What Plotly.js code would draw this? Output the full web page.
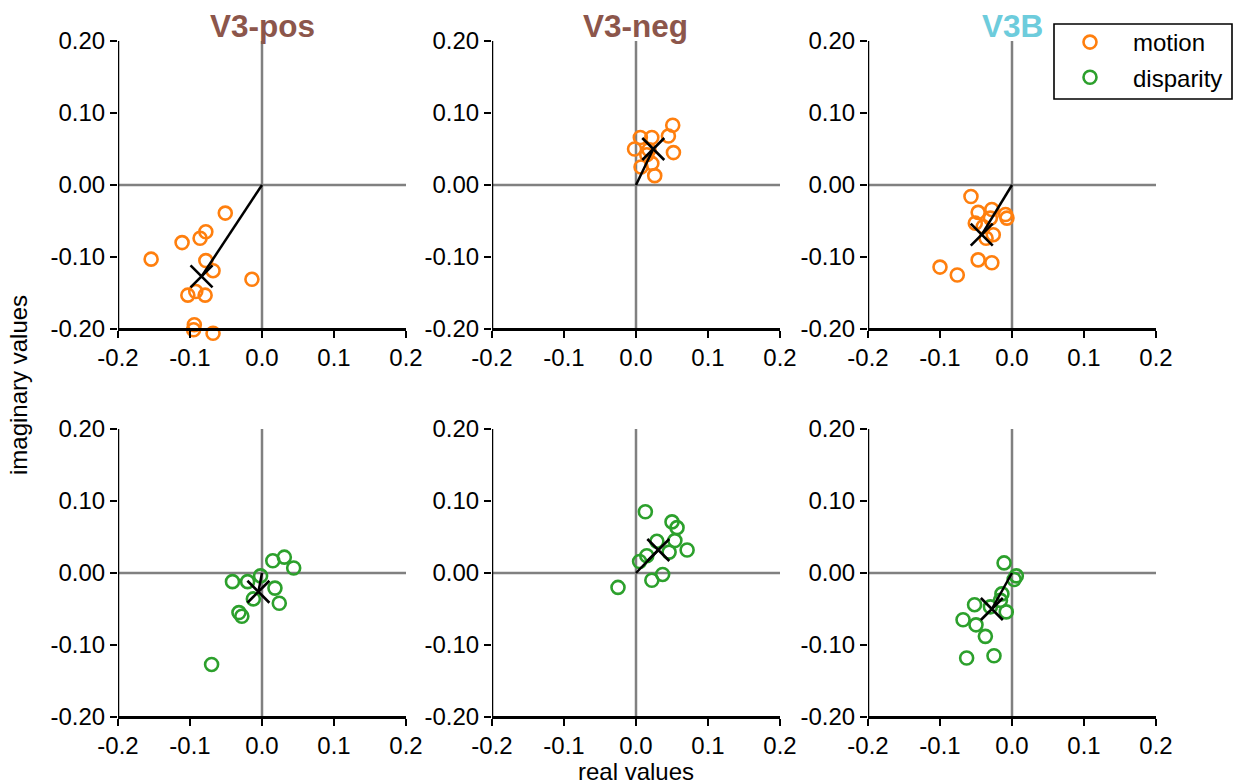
<!DOCTYPE html>
<html>
<head>
<meta charset="utf-8">
<script src="https://cdn.plot.ly/plotly-3.0.1.min.js"></script>
<style>html,body{margin:0;padding:0;background:#fff;}#chart{width:1235px;height:784px;}</style>
</head>
<body>
<div id="chart"></div>
<script>
// ---------- data ----------
const regions = ['V3-pos', 'V3-neg', 'V3B'];
const conditions = ['motion', 'disparity'];

const xTickVals = [-0.2, -0.1, 0, 0.1, 0.2];
const xTickText = ['-0.2', '-0.1', '0.0', '0.1', '0.2'];
const yTickVals = [0.2, 0.1, 0, -0.1, -0.2];
const yTickText = ['0.20', '0.10', '0.00', '-0.10', '-0.20'];

// motion (top row)
const motion_v3pos_re = [-0.051, -0.078, -0.086, -0.111, -0.154, -0.078, -0.068, -0.014, -0.103, -0.079, -0.092, -0.094, -0.095, -0.068];
const motion_v3pos_im = [-0.039, -0.065, -0.074, -0.080, -0.103, -0.105, -0.119, -0.131, -0.153, -0.153, -0.148, -0.194, -0.201, -0.206];
const motion_v3pos_mean = [-0.084, -0.127];

const motion_v3neg_re = [0.051, 0.045, 0.006, 0.022, -0.002, 0.018, 0.052, 0.015, 0.007, 0.022, 0.026];
const motion_v3neg_im = [0.083, 0.068, 0.066, 0.066, 0.050, 0.049, 0.045, 0.042, 0.025, 0.030, 0.013];
const motion_v3neg_mean = [0.024, 0.050];

const motion_v3b_re = [-0.057, -0.047, -0.028, -0.009, -0.007, -0.030, -0.051, -0.026, -0.036, -0.047, -0.028, -0.100, -0.076, -0.040];
const motion_v3b_im = [-0.016, -0.038, -0.034, -0.041, -0.046, -0.046, -0.053, -0.069, -0.074, -0.104, -0.108, -0.114, -0.125, -0.058];
const motion_v3b_mean = [-0.042, -0.069];

// disparity (bottom row)
const disparity_v3pos_re = [0.015, 0.031, 0.044, -0.041, -0.020, -0.002, 0.018, -0.012, 0.024, -0.032, -0.028, -0.070];
const disparity_v3pos_im = [0.017, 0.022, 0.007, -0.012, -0.012, -0.004, -0.021, -0.036, -0.042, -0.055, -0.060, -0.127];
const disparity_v3pos_mean = [-0.005, -0.026];

const disparity_v3neg_re = [0.013, 0.050, 0.057, 0.054, 0.029, 0.071, 0.046, 0.015, 0.005, 0.037, 0.022, -0.025];
const disparity_v3neg_im = [0.085, 0.071, 0.063, 0.045, 0.044, 0.032, 0.029, 0.024, 0.016, -0.002, -0.010, -0.020];
const disparity_v3neg_mean = [0.031, 0.032];

const disparity_v3b_re = [-0.011, 0.006, 0.003, -0.014, -0.052, -0.030, -0.008, -0.068, -0.050, -0.037, -0.063, -0.025, -0.016];
const disparity_v3b_im = [0.014, -0.004, -0.009, -0.029, -0.044, -0.047, -0.054, -0.065, -0.072, -0.088, -0.118, -0.115, -0.038];
const disparity_v3b_mean = [-0.028, -0.050];

// ---------- assembly ----------
const panels = [
  {re: motion_v3pos_re, im: motion_v3pos_im, mean: motion_v3pos_mean, cond: 0},
  {re: motion_v3neg_re, im: motion_v3neg_im, mean: motion_v3neg_mean, cond: 0},
  {re: motion_v3b_re, im: motion_v3b_im, mean: motion_v3b_mean, cond: 0},
  {re: disparity_v3pos_re, im: disparity_v3pos_im, mean: disparity_v3pos_mean, cond: 1},
  {re: disparity_v3neg_re, im: disparity_v3neg_im, mean: disparity_v3neg_mean, cond: 1},
  {re: disparity_v3b_re, im: disparity_v3b_im, mean: disparity_v3b_mean, cond: 1}
];
const condColors = ['#ff7f0e', '#2ca02c'];
const titleColors = ['#8c564b', '#8c564b', '#6dccdc'];

const W = 1235, H = 784;
const colPx = [[118, 406], [492, 780], [868, 1156]];
const rowPx = [[41, 329], [429, 717]];
const PX_PER_UNIT = 720;           // 288 px for 0.4 units
const Y_LOW = -0.22;               // extra room below -0.2 so low points stay visible
const EXTRA = (-0.2 - Y_LOW) * PX_PER_UNIT;
const FONT = 'Liberation Sans, Arial, sans-serif';
const FS = 24;

const traces = [];
const shapes = [];
const layout = {
  width: W, height: H,
  margin: {l: 0, r: 0, t: 0, b: 0},
  paper_bgcolor: '#fff', plot_bgcolor: 'rgba(0,0,0,0)',
  font: {family: FONT, size: FS, color: '#000'},
  showlegend: true,
  legend: {
    x: 1047 / W, y: 1 - 20 / H, xanchor: 'left', yanchor: 'top',
    borderwidth: 0, bgcolor: 'rgba(0,0,0,0)',
    font: {family: FONT, size: FS, color: '#000'},
    itemwidth: 76, tracegroupgap: 1
  },
  annotations: [],
  shapes: shapes
};

// legend frame
shapes.push({type: 'rect', xref: 'paper', yref: 'paper', x0: 1054 / W, x1: 1232 / W, y0: 1 - 99 / H, y1: 1 - 24 / H,
  line: {color: '#000', width: 1.6}, fillcolor: 'rgba(0,0,0,0)', layer: 'above'});

panels.forEach((p, i) => {
  const n = i === 0 ? '' : String(i + 1);
  const xa = 'x' + n, ya = 'y' + n;
  const col = i % 3, row = Math.floor(i / 3);

  // zero lines and left spine as shapes (limited to the -0.2..0.2 box)
  shapes.push({type: 'line', xref: xa, yref: ya, x0: 0, x1: 0, y0: -0.2, y1: 0.2, layer: 'below', line: {color: '#808080', width: 2.5}});
  shapes.push({type: 'line', xref: xa, yref: ya, x0: -0.2, x1: 0.2, y0: 0, y1: 0, layer: 'below', line: {color: '#808080', width: 2.5}});
  shapes.push({type: 'line', xref: xa, yref: ya, x0: -0.2, x1: -0.2, y0: -0.2, y1: 0.2, layer: 'above', line: {color: '#000', width: 2.5}});

  traces.push({
    type: 'scatter', mode: 'markers', x: p.re, y: p.im, xaxis: xa, yaxis: ya,
    name: conditions[p.cond], showlegend: col === 0, legendgroup: conditions[p.cond],
    cliponaxis: false,
    marker: {symbol: 'circle-open', size: 13, color: condColors[p.cond], line: {width: 2.6, color: condColors[p.cond]}},
    hoverinfo: 'x+y'
  });
  traces.push({
    type: 'scatter', mode: 'lines', x: [0, p.mean[0]], y: [0, p.mean[1]], xaxis: xa, yaxis: ya,
    showlegend: false, line: {color: '#000', width: 2.5}, hoverinfo: 'skip'
  });
  traces.push({
    type: 'scatter', mode: 'markers', x: [p.mean[0]], y: [p.mean[1]], xaxis: xa, yaxis: ya,
    showlegend: false, cliponaxis: false,
    marker: {symbol: 'x-thin-open', size: 22, color: '#000', line: {width: 2.6, color: '#000'}}
  });

  const tickCommon = {
    ticks: 'outside', ticklen: 7, tickwidth: 2.5, tickcolor: '#000',
    showgrid: false, zeroline: false,
    tickfont: {family: FONT, size: FS, color: '#000'},
    fixedrange: true
  };
  layout['xaxis' + n] = Object.assign({}, tickCommon, {
    domain: [colPx[col][0] / W, colPx[col][1] / W], anchor: 'free', position: 1 - rowPx[row][1] / H,
    showline: true, linecolor: '#000', linewidth: 2.5,
    range: [-0.2, 0.2], tickmode: 'array', tickvals: xTickVals, ticktext: xTickText
  });
  layout['yaxis' + n] = Object.assign({}, tickCommon, {
    domain: [1 - (rowPx[row][1] + EXTRA) / H, 1 - rowPx[row][0] / H], anchor: xa,
    showline: false,
    range: [Y_LOW, 0.2], tickmode: 'array', tickvals: yTickVals, ticktext: yTickText
  });
  if (row === 0) {
    layout.annotations.push({
      text: '<b>' + regions[col] + '</b>', xref: 'paper', yref: 'paper',
      x: (colPx[col][0] + colPx[col][1]) / 2 / W, y: 1 - 26 / H, xanchor: 'center', yanchor: 'middle',
      showarrow: false, font: {family: FONT, size: 31.5, color: titleColors[col]}
    });
  }
});

layout.annotations.push({
  text: 'imaginary values', xref: 'paper', yref: 'paper', x: 18 / W, y: 1 - 385 / H,
  xanchor: 'center', yanchor: 'middle', textangle: -90, showarrow: false,
  font: {family: FONT, size: FS, color: '#000'}
});
layout.annotations.push({
  text: 'real values', xref: 'paper', yref: 'paper', x: 636 / W, y: 1 - 771 / H,
  xanchor: 'center', yanchor: 'middle', showarrow: false,
  font: {family: FONT, size: FS, color: '#000'}
});

Plotly.newPlot('chart', traces, layout, {displayModeBar: false, staticPlot: true});
</script>
</body>
</html>
